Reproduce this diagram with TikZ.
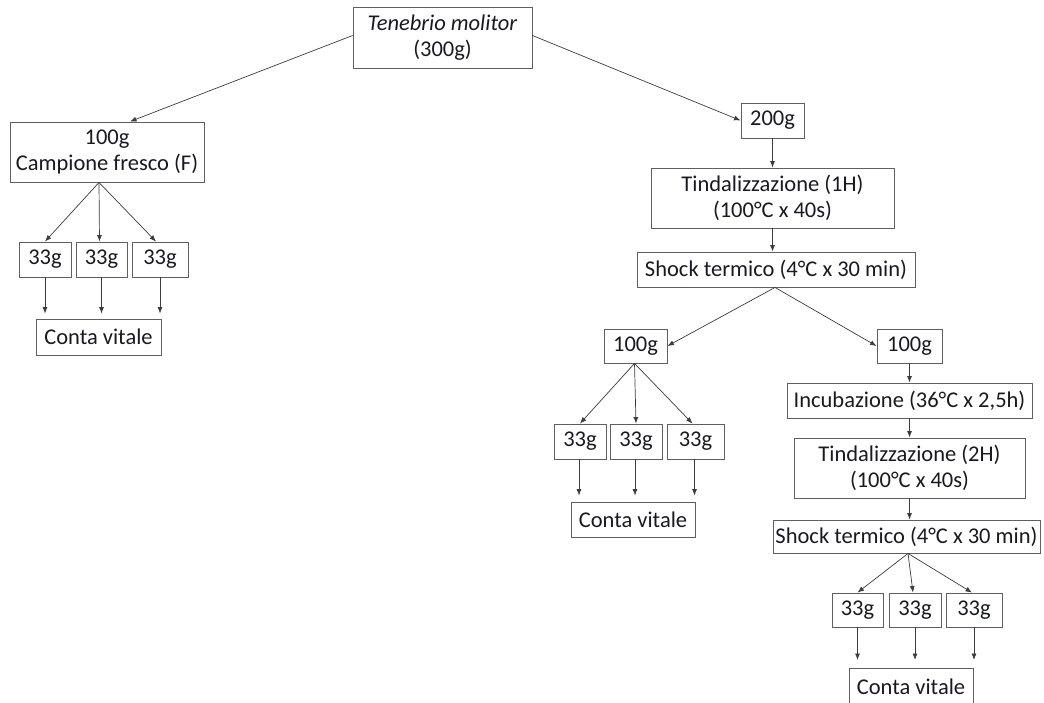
\documentclass[tikz,border=0pt]{standalone}
\usepackage{fontspec}
\setmainfont{Carlito}
\usetikzlibrary{arrows.meta,calc}
\definecolor{boxc}{RGB}{95,95,95}
\definecolor{linec}{RGB}{60,60,60}
\definecolor{txt}{RGB}{25,25,35}
\tikzset{
  bx/.style={draw=boxc,line width=0.9pt,inner sep=0pt,text=txt,align=center,
    font=\fontsize{22.5}{26}\selectfont},
  ar/.style={draw=linec,line width=0.7pt,-{Latex[length=6.5pt,width=5pt]}},
}
\begin{document}
\begin{tikzpicture}[x=1pt,y=-1pt]
\useasboundingbox (0,0) rectangle (1044,702);
\clip (0,0) rectangle (1044,702);
% nodes
\node[bx,minimum width=179,minimum height=61] (ten) at (442.5,37.5) {\textit{Tenebrio molitor}\\(300g)};
\node[bx,minimum width=194,minimum height=60] (f100) at (107,152) {100g\\Campione fresco (F)};
\node[bx,minimum width=52,minimum height=35] (l1) at (45,259.5) {33g};
\node[bx,minimum width=51,minimum height=35] (l2) at (101.5,259.5) {33g};
\node[bx,minimum width=56,minimum height=35] (l3) at (160,259.5) {33g};
\node[bx,minimum width=125,minimum height=36] (lcv) at (98.5,337) {Conta vitale};
\node[bx,minimum width=63,minimum height=35] (g200) at (772.5,120.5) {200g};
\node[bx,minimum width=243,minimum height=60] (tin1) at (772.5,198) {Tindalizzazione (1H)\\(100°C x 40s)};
\node[bx,minimum width=278,minimum height=35] (sh1) at (776,269.5) {Shock termico (4°C x 30 min)};
\node[bx,minimum width=63,minimum height=34] (m100) at (635.5,346) {100g};
\node[bx,minimum width=52,minimum height=35] (m1) at (580,441.5) {33g};
\node[bx,minimum width=52,minimum height=35] (m2) at (636,441.5) {33g};
\node[bx,minimum width=57,minimum height=35] (m3) at (695.5,441.5) {33g};
\node[bx,minimum width=124,minimum height=35] (mcv) at (633,519.5) {Conta vitale};
\node[bx,minimum width=65,minimum height=34] (r100) at (909.5,346) {100g};
\node[bx,minimum width=245,minimum height=35] (inc) at (909.5,400.5) {Incubazione (36°C x 2,5h)};
\node[bx,minimum width=231,minimum height=60] (tin2) at (909.5,468) {Tindalizzazione (2H)\\(100°C x 40s)};
\node[bx,minimum width=267,minimum height=33] (sh2) at (906.5,536.5) {Shock termico (4°C x 30 min)};
\node[bx,minimum width=51,minimum height=34] (b1) at (857.5,610) {33g};
\node[bx,minimum width=52,minimum height=34] (b2) at (915,610) {33g};
\node[bx,minimum width=56,minimum height=34] (b3) at (974,610) {33g};
\node[bx,minimum width=124,minimum height=37,anchor=north] (bcv) at (911,668) {Conta vitale};
% connectors
\draw[ar] ([yshift=2]ten.west) -- ([xshift=23]f100.north);
\draw[ar] ([yshift=2]ten.east) -- (g200.west);
\coordinate (fs) at ([xshift=-8]f100.south);
\draw[ar] (fs) -- (l1.north);
\draw[ar] (fs) -- ([xshift=-2]l2.north);
\draw[ar] (fs) -- ([xshift=-4]l3.north);
\foreach \n in {l1,l2,l3}{
  \draw[ar,shorten >=5pt] (\n.south) -- (\n.south |- lcv.north);
}
\draw[ar] (g200.south) -- (tin1.north);
\draw[ar] (tin1.south) -- (tin1.south |- sh1.north);
\coordinate (s1) at ([xshift=-1]sh1.south);
\draw[ar] (s1) -- (m100.east);
\draw[ar] (s1) -- (r100.west);
\coordinate (ms) at ([xshift=-1]m100.south);
\draw[ar] (ms) -- (m1.north);
\draw[ar] (ms) -- (m2.north);
\draw[ar] (ms) -- ([xshift=-3]m3.north);
\foreach \n in {m1,m2,m3}{
  \draw[ar,shorten >=6pt] ([xshift=-1]\n.south) -- ([xshift=-1]\n.south |- mcv.north);
}
\draw[ar] (r100.south) -- (inc.north);
\draw[ar] (inc.south) -- (inc.south |- tin2.north);
\draw[ar] (tin2.south) -- (tin2.south |- sh2.north);
\coordinate (s2) at ([xshift=1.5]sh2.south);
\draw[ar] (s2) -- (b1.north);
\draw[ar] (s2) -- ([xshift=-2]b2.north);
\draw[ar] (s2) -- ([xshift=-2]b3.north);
\foreach \n in {b1,b2,b3}{
  \draw[ar,shorten >=8pt] (\n.south) -- (\n.south |- bcv.north);
}
\end{tikzpicture}
\end{document}
